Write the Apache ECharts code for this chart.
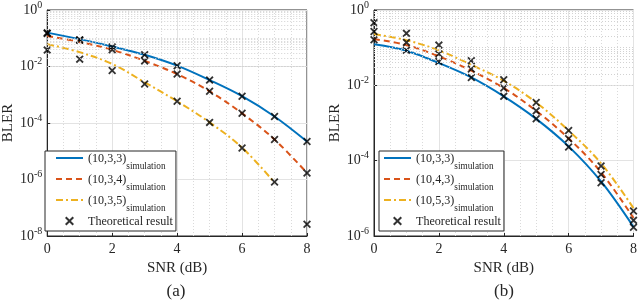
<!DOCTYPE html>
<html><head><meta charset="utf-8">
<script src="https://cdn.jsdelivr.net/npm/echarts@6/dist/echarts.min.js"></script>
<style>html,body{margin:0;padding:0;background:#fff}#c{width:640px;height:305px}</style>
</head><body><div id="c"></div>
<script>
// ---- data ----
const snr = [0, 1, 2, 3, 4, 5, 6, 7, 8];
const xTicks = [0, 2, 4, 6, 8];
const panelTitles = ['(a)', '(b)'];

// panel (a)
const aNames = ['(10,3,3)', '(10,3,4)', '(10,3,5)'];
const aSim333 = [1.58e-1, 9.3e-2, 5.1e-2, 2.6e-2, 1.07e-2, 3.3e-3, 8.9e-4, 1.7e-4, 2.2e-5];
const aSim334 = [1.2e-1, 7.4e-2, 3.9e-2, 1.58e-2, 5.4e-3, 1.32e-3, 2.2e-4, 2.6e-5, 1.7e-6];
const aSim335 = [6.2e-2, 3.2e-2, 1.23e-2, 2.75e-3, 5.9e-4, 1.05e-4, 1.35e-5, 7.8e-7];
const aTheo333 = [1.55e-1, 8.7e-2, 4.9e-2, 2.6e-2, 1.07e-2, 3.3e-3, 8.9e-4, 1.7e-4, 2.2e-5];
const aTheo334 = [1.48e-1, 8.7e-2, 3.9e-2, 1.58e-2, 5.4e-3, 1.32e-3, 2.2e-4, 2.6e-5, 1.7e-6];
const aTheo335 = [3.8e-2, 1.82e-2, 7.2e-3, 2.4e-3, 5.9e-4, 1.05e-4, 1.3e-5, 8.1e-7, 2.6e-8];

// panel (b)
const bNames = ['(10,3,3)', '(10,4,3)', '(10,5,3)'];
const bSim333 = [1.23e-1, 8.3e-2, 3.9e-2, 1.62e-2, 5.1e-3, 1.29e-3, 2.4e-4, 2.8e-5, 1.74e-6];
const bSim343 = [1.7e-1, 1.17e-1, 5.9e-2, 2.45e-2, 8.5e-3, 2.1e-3, 3.9e-4, 4.9e-5, 3.0e-6];
const bSim353 = [2.3e-1, 1.58e-1, 8.5e-2, 3.5e-2, 1.32e-2, 3.5e-3, 6.3e-4, 8.5e-5, 5.5e-6];
const bTheo333 = [1.62e-1, 8.5e-2, 4.3e-2, 1.62e-2, 5.1e-3, 1.29e-3, 2.3e-4, 2.6e-5, 1.7e-6];
const bTheo343 = [2.7e-1, 1.38e-1, 6.8e-2, 2.7e-2, 8.5e-3, 2.1e-3, 3.8e-4, 4.3e-5, 2.6e-6];
const bTheo353 = [4.6e-1, 2.4e-1, 1.17e-1, 4.5e-2, 1.41e-2, 3.5e-3, 6.3e-4, 7.2e-5, 4.6e-6];

// ---- styling ----
const FONT = '"Liberation Serif", serif';
const TXT = '#262626';
const C1 = '#0072BD', C2 = '#D95319', C3 = '#EDB120';
const X_PATH = 'path://M1.6,0 L5,3.4 L8.4,0 L10,1.6 L6.6,5 L10,8.4 L8.4,10 L5,6.6 L1.6,10 L0,8.4 L3.4,5 L0,1.6 Z';
const theoName = 'Theoretical result';

const pts = ys => ys.map((v, i) => [snr[i], v]);

function sim(name, ys, color, type, gi) {
  return { name, type: 'line', xAxisIndex: gi, yAxisIndex: gi, data: pts(ys),
    smooth: 0.35, symbol: 'none', z: 3,
    lineStyle: { color, width: 2, type }, itemStyle: { color } };
}
function theo(arrs, gi) {
  return { name: theoName, type: 'scatter', xAxisIndex: gi, yAxisIndex: gi,
    data: [].concat(...arrs.map(pts)), symbol: X_PATH, symbolSize: 8, z: 4,
    itemStyle: { color: '#000' } };
}
function minorGrid(gi, minExp, maxExp) {
  const vals = [];
  for (let k = minExp; k < maxExp; k++) {
    for (let m = 1; m <= 9; m++) {
      if (m === 1 && k % 2 === 0) continue;
      vals.push({ yAxis: m * Math.pow(10, k) });
    }
  }
  return { type: 'line', xAxisIndex: gi, yAxisIndex: gi, data: [], silent: true, z: 1,
    markLine: { silent: true, symbol: 'none', label: { show: false }, animation: false,
      lineStyle: { type: [1, 2], color: '#d2d2d2', width: 1 }, data: vals } };
}
function xAx(gi) {
  return { type: 'value', gridIndex: gi, min: 0, max: 8, interval: 2,
    name: 'SNR (dB)', nameLocation: 'middle', nameGap: 24,
    nameTextStyle: { fontFamily: FONT, fontSize: 15, color: TXT },
    axisLine: { lineStyle: { color: TXT, width: 1 } },
    axisTick: { inside: true, length: 3, lineStyle: { color: TXT } },
    axisLabel: { fontFamily: FONT, fontSize: 14, color: TXT, margin: 6,
      formatter: v => xTicks.includes(v) ? String(v) : '' },
    splitLine: { show: true, lineStyle: { color: '#e3e3e3', width: 1 } },
    minorTick: { show: false, splitNumber: 4 },
    minorSplitLine: { show: true, lineStyle: { type: [1, 2], color: '#dadada', width: 1 } } };
}
function yAx(gi, minV) {
  return { type: 'log', logBase: 10, gridIndex: gi, min: minV, max: 1, interval: 2,
    name: 'BLER', nameLocation: 'middle', nameGap: 19,
    nameTextStyle: { fontFamily: FONT, fontSize: 15, color: TXT },
    axisLine: { lineStyle: { color: TXT, width: 1 } },
    axisTick: { inside: true, length: 3, lineStyle: { color: TXT } },
    axisLabel: { margin: 5, color: TXT, fontFamily: FONT,
      formatter: v => '{b|10}{e|' + Math.round(Math.log10(v)) + '}',
      rich: { b: { fontFamily: FONT, fontSize: 14, lineHeight: 20, color: TXT },
              e: { fontFamily: FONT, fontSize: 10, lineHeight: 8, verticalAlign: 'top', color: TXT } } },
    splitLine: { show: true, lineStyle: { color: '#e3e3e3', width: 1 } } };
}
function legend(gi, names, left) {
  const items = names.map(n => ({ name: n, itemStyle: { opacity: 0 } }));
  items.push({ name: theoName });
  return { show: true, orient: 'vertical', left, top: 151,
    data: items,
    itemWidth: 27, itemHeight: 9, itemGap: 1, padding: [0, 3, 3, gi ? 4 : 10],
    backgroundColor: '#fff', borderColor: TXT, borderWidth: 1, borderRadius: 0,
    selectedMode: false,
    formatter: n => n === theoName ? '{a|' + n + '}' : '{a|' + n + '}{s|simulation}',
    textStyle: { fontFamily: FONT, rich: {
      a: { fontFamily: FONT, fontSize: 12.1, lineHeight: 14, padding: [2, 0, 0, 0], verticalAlign: 'top', color: TXT },
      s: { fontFamily: FONT, fontSize: 9.3, lineHeight: 9, padding: [11, 0, 0, 0], verticalAlign: 'top', color: TXT } } } };
}

const chart = echarts.init(document.getElementById('c'), null, { renderer: 'canvas' });
chart.setOption({
  animation: false,
  backgroundColor: '#fff',
  textStyle: { fontFamily: FONT, color: TXT },
  grid: [
    { left: 45, top: 9, width: 262, height: 227, show: true, borderColor: TXT, borderWidth: 1, backgroundColor: 'transparent' },
    { left: 374, top: 9, width: 261, height: 227, show: true, borderColor: TXT, borderWidth: 1, backgroundColor: 'transparent' }
  ],
  xAxis: [xAx(0), xAx(1)],
  yAxis: [yAx(0, 1e-8), yAx(1, 1e-6)],
  legend: [legend(0, aNames, 45), legend(1, bNames, 379)],
  graphic: [
    { type: 'text', x: 176, y: 292, style: { text: panelTitles[0], font: '17px "Liberation Serif", serif', fill: TXT, align: 'center', verticalAlign: 'middle' } },
    { type: 'text', x: 504, y: 292, style: { text: panelTitles[1], font: '17px "Liberation Serif", serif', fill: TXT, align: 'center', verticalAlign: 'middle' } }
  ],
  series: [
    minorGrid(0, -8, 0), minorGrid(1, -6, 0),
    sim(aNames[0], aSim333, C1, 'solid', 0),
    sim(aNames[1], aSim334, C2, [6, 4], 0),
    sim(aNames[2], aSim335, C3, [7, 3, 2, 3], 0),
    theo([aTheo333, aTheo334, aTheo335], 0),
    sim(bNames[0], bSim333, C1, 'solid', 1),
    sim(bNames[1], bSim343, C2, [6, 4], 1),
    sim(bNames[2], bSim353, C3, [7, 3, 2, 3], 1),
    theo([bTheo333, bTheo343, bTheo353], 1)
  ]
});
</script></body></html>
